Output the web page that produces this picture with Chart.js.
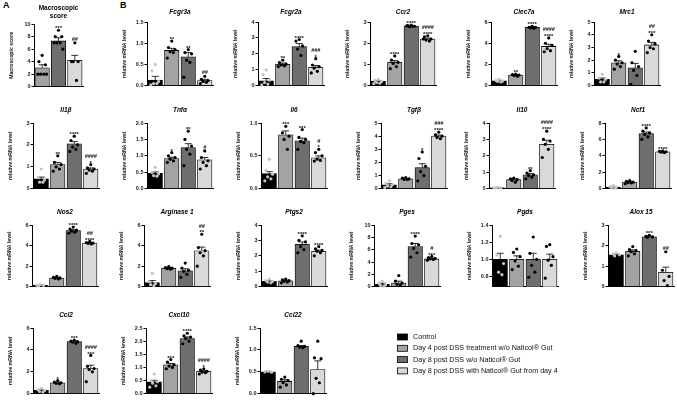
<!DOCTYPE html>
<html>
<head>
<meta charset="utf-8">
<script src="https://cdn.jsdelivr.net/npm/chart.js@4.4.0/dist/chart.umd.min.js"></script>
<style>
  body { margin: 0; background: #fff; }
  #fig { position: relative; width: 677px; height: 400px; overflow: hidden; font-family: "Liberation Sans", Arial, sans-serif; }
  #fig canvas { position: absolute; }
  .letter { position: absolute; font-weight: bold; font-size: 9px; color: #000; }
</style>
</head>
<body>
<div id="fig">
  <div class="letter" style="left:3px;top:0px">A</div>
  <div class="letter" style="left:120px;top:0px">B</div>
  <canvas id="legend" width="200" height="50" style="left:394px;top:331px"></canvas>
</div>
<script>
// groups
const groups = ['Control', 'Day 4 post DSS treatment w/o Naticol® Gut', 'Day 8 post DSS w/o Naticol® Gut', 'Day 8 post DSS with Naticol® Gut from day 4'];
const groupColors = ['#000000', '#a3a3a3', '#6e6e6e', '#d9d9d9'];

// each panel: means, SEM, single animals, significance marks, tick labels
const macro = { mean: [3.0, 7.3, 4.2], sem: [0.5, 0.5, 0.8],
  pts: [[5, 4, 3.5, 2, 2, 2, 2], [9, 8, 8, 7, 7, 7, 6], [7, 4, 4, 4, 1]],
  stars: ['', '***', ''], hash: ['', '', '##'], ticks: ['0', '2', '4', '6', '8', '10'] };
const fcgr3a = { mean: [0.13, 0.83, 0.68, 0.12], sem: [0.09, 0.05, 0.1, 0.03],
  pts: [[0.5, 0.35, 0.1, 0.05, 0.05, 0.02], [1.05, 0.9, 0.85, 0.8, 0.78, 0.65], [0.85, 0.78, 0.75, 0.6, 0.55, 0.2], [0.22, 0.15, 0.12, 0.1, 0.08, 0.05]],
  stars: ['', '**', '**', ''], hash: ['', '', '', '##'], ticks: ['0.0', '0.5', '1.0', '1.5'] };
const fcgr2a = { mean: [0.3, 1.35, 2.45, 1.15], sem: [0.15, 0.07, 0.2, 0.12],
  pts: [[1.0, 0.7, 0.35, 0.2, 0.1, 0.05], [1.6, 1.45, 1.35, 1.3, 1.25, 1.2], [2.9, 2.8, 2.5, 2.3, 1.9], [1.7, 1.3, 1.2, 1.1, 0.9, 0.8]],
  stars: ['', '**', '****', '*'], hash: ['', '', '', '###'], ticks: ['0', '1', '2', '3', '4'] };
const ccr2 = { mean: [0.2, 1.1, 2.8, 2.2], sem: [0.03, 0.08, 0.02, 0.04],
  pts: [[0.3, 0.25, 0.2, 0.15, 0.12, 0.1], [1.4, 1.2, 1.1, 1.05, 0.9, 0.8], [2.85, 2.83, 2.8, 2.78, 2.8, 2.82], [2.35, 2.3, 2.2, 2.15, 2.1, 2.2]],
  stars: ['', '****', '****', '****'], hash: ['', '', '', '####'], ticks: ['0', '1', '2', '3'] };
const clec7a = { mean: [0.45, 1.0, 5.5, 3.7], sem: [0.05, 0.05, 0.05, 0.2],
  pts: [[0.6, 0.5, 0.45, 0.4, 0.35], [1.1, 1.05, 1.0, 0.95, 0.9], [5.6, 5.5, 5.5, 5.45, 5.4], [4.5, 4.0, 3.8, 3.5, 3.3, 3.2]],
  stars: ['', '**', '****', '****'], hash: ['', '', '', '####'], ticks: ['0', '2', '4', '6'] };
const mrc1 = { mean: [0.5, 1.8, 1.4, 3.2], sem: [0.1, 0.15, 0.35, 0.2],
  pts: [[0.9, 0.6, 0.5, 0.3, 0.3], [2.3, 2.0, 1.8, 1.7, 1.5, 1.3], [2.7, 1.8, 1.5, 1.2, 0.8, 0.1], [4.0, 3.5, 3.3, 3.0, 2.9, 2.6]],
  stars: ['', '*', '', '***'], hash: ['', '', '', '##'], ticks: ['0', '1', '2', '3', '4', '5'] };
const il1b = { mean: [0.45, 1.1, 2.05, 0.9], sem: [0.08, 0.1, 0.1, 0.05],
  pts: [[0.9, 0.5, 0.4, 0.3, 0.3], [1.5, 1.2, 1.1, 1.0, 0.9, 0.8], [2.4, 2.2, 2.0, 1.9, 1.8, 1.7], [1.1, 0.95, 0.9, 0.85, 0.8, 0.7]],
  stars: ['', '**', '****', '*'], hash: ['', '', '', '####'], ticks: ['0', '1', '2', '3'] };
const tnfa = { mean: [0.47, 0.92, 1.25, 0.88], sem: [0.04, 0.04, 0.12, 0.07],
  pts: [[0.65, 0.5, 0.45, 0.4, 0.38], [1.1, 1.0, 0.95, 0.9, 0.85, 0.8], [1.75, 1.5, 1.3, 1.2, 1.05, 0.7], [1.15, 0.95, 0.85, 0.8, 0.7, 0.6]],
  stars: ['', '*', '**', ''], hash: ['', '', '', '#'], ticks: ['0.0', '0.5', '1.0', '1.5', '2.0'] };
const il6 = { mean: [0.23, 0.82, 0.73, 0.47], sem: [0.03, 0.06, 0.04, 0.03],
  pts: [[0.45, 0.28, 0.22, 0.18, 0.15, 0.12], [0.95, 0.85, 0.8, 0.75, 0.6], [0.9, 0.78, 0.75, 0.72, 0.7, 0.6], [0.6, 0.55, 0.5, 0.45, 0.43, 0.42]],
  stars: ['', '***', '***', '*'], hash: ['', '', '', '#'], ticks: ['0.0', '0.5', '1.0'] };
const tgfb = { mean: [0.3, 0.75, 1.6, 4.0], sem: [0.08, 0.03, 0.3, 0.08],
  pts: [[0.6, 0.4, 0.3, 0.2, 0.15, 0.1], [0.85, 0.8, 0.75, 0.7, 0.7], [2.8, 2.3, 1.7, 1.3, 1.0, 0.6], [4.3, 4.1, 4.0, 3.9, 3.8]],
  stars: ['', '', '*', '****'], hash: ['', '', '', '###'], ticks: ['0', '1', '2', '3', '4', '5'] };
const il10 = { mean: [0.05, 0.55, 0.85, 2.7], sem: [0.01, 0.05, 0.07, 0.25],
  pts: [[0.08, 0.05, 0.05, 0.03], [0.65, 0.6, 0.55, 0.5, 0.4], [1.1, 0.95, 0.85, 0.8, 0.7, 0.6], [3.5, 3.0, 2.9, 2.7, 2.4, 1.9]],
  stars: ['', '', '**', '****'], hash: ['', '', '', '####'], ticks: ['0', '1', '2', '3', '4'] };
const ncf1 = { mean: [0.2, 0.8, 6.7, 4.5], sem: [0.03, 0.05, 0.2, 0.05],
  pts: [[0.4, 0.25, 0.2, 0.15, 0.1], [1.0, 0.9, 0.8, 0.75, 0.7, 0.6], [7.4, 7.0, 6.8, 6.6, 6.3, 6.0], [4.6, 4.55, 4.5, 4.45, 4.4]],
  stars: ['', '', '****', '****'], hash: ['', '', '', ''], ticks: ['0', '2', '4', '6', '8'] };
const nos2 = { mean: [0.15, 0.85, 5.45, 4.25], sem: [0.02, 0.05, 0.1, 0.05],
  pts: [[0.2, 0.15, 0.12, 0.1], [1.0, 0.9, 0.85, 0.8, 0.75], [5.8, 5.6, 5.5, 5.4, 5.3, 5.2], [4.4, 4.3, 4.25, 4.2, 4.15]],
  stars: ['', '', '****', '****'], hash: ['', '', '', '##'], ticks: ['0', '2', '4', '6'] };
const arg1 = { mean: [0.4, 1.8, 1.55, 3.5], sem: [0.2, 0.05, 0.2, 0.35],
  pts: [[1.3, 0.5, 0.3, 0.2, 0.1], [1.95, 1.85, 1.8, 1.75, 1.7], [2.3, 1.8, 1.6, 1.5, 1.2, 0.9], [5.1, 3.8, 3.5, 3.3, 3.0, 2.0]],
  stars: ['', '', '', '**'], hash: ['', '', '', '##'], ticks: ['0', '2', '4', '6'] };
const ptgs2 = { mean: [0.35, 0.38, 2.75, 2.3], sem: [0.03, 0.04, 0.15, 0.07],
  pts: [[0.5, 0.4, 0.35, 0.3, 0.25], [0.5, 0.45, 0.4, 0.35, 0.3, 0.25], [3.3, 3.0, 2.9, 2.6, 2.4, 2.2], [2.6, 2.45, 2.35, 2.3, 2.2, 2.0]],
  stars: ['', '', '****', '****'], hash: ['', '', '', ''], ticks: ['0', '1', '2', '3', '4'] };
const pges = { mean: [0.4, 0.6, 6.5, 4.5], sem: [0.15, 0.3, 0.5, 0.1],
  pts: [[0.9, 0.5, 0.3, 0.2, 0.1], [1.8, 0.9, 0.6, 0.4, 0.2], [8.2, 7.0, 6.8, 6.2, 5.5, 4.8], [4.9, 4.7, 4.6, 4.5, 4.4, 4.3]],
  stars: ['', '', '****', '***'], hash: ['', '', '', '#'], ticks: ['0', '2', '4', '6', '8', '10'] };
const pgds = { mean: [1.0, 1.0, 1.0, 1.0], sem: [0.07, 0.04, 0.07, 0.06],
  pts: [[1.27, 1.05, 0.95, 0.85, 0.82], [1.12, 1.08, 1.03, 0.98, 0.92, 0.88], [1.26, 1.07, 1.0, 0.93, 0.85, 0.79], [1.17, 1.15, 1.03, 0.99, 0.93, 0.78]],
  stars: ['', '', '', ''], hash: ['', '', '', ''], ticks: ['0.8', '1.0', '1.2', '1.4'], min: 0.68 };
const alox15 = { mean: [1.55, 1.72, 2.43, 0.7], sem: [0.03, 0.07, 0.03, 0.25],
  pts: [[1.65, 1.6, 1.55, 1.5], [1.95, 1.8, 1.75, 1.7, 1.6, 1.5], [2.5, 2.45, 2.42, 2.4], [1.7, 0.8, 0.5, 0.3, 0.05]],
  stars: ['', '', '***', ''], hash: ['', '', '', '##'], ticks: ['0', '1', '2', '3'] };
const ccl2 = { mean: [0.3, 1.0, 4.75, 2.3], sem: [0.05, 0.05, 0.07, 0.3],
  pts: [[0.5, 0.35, 0.3, 0.2, 0.15], [1.2, 1.05, 1.0, 0.95, 0.9], [4.9, 4.8, 4.75, 4.7, 4.6], [3.5, 2.5, 2.3, 2.2, 2.0, 1.1]],
  stars: ['', '*', '***', '***'], hash: ['', '', '', '####'], ticks: ['0', '2', '4', '6'] };
const cxcl10 = { mean: [0.45, 1.1, 2.1, 0.85], sem: [0.06, 0.05, 0.06, 0.03],
  pts: [[0.75, 0.5, 0.45, 0.4, 0.3, 0.25], [1.3, 1.2, 1.1, 1.05, 1.0, 0.95], [2.3, 2.2, 2.15, 2.1, 2.0, 1.9], [0.95, 0.9, 0.85, 0.82, 0.8, 0.75]],
  stars: ['', '***', '****', '*'], hash: ['', '', '', '####'], ticks: ['0.0', '0.5', '1.0', '1.5', '2.0', '2.5'] };
const ccl22 = { mean: [0.5, 0.28, 1.08, 0.55], sem: [0.01, 0.04, 0.02, 0.2],
  pts: [[0.51, 0.5, 0.49], [0.38, 0.33, 0.3, 0.25, 0.2, 0.15], [1.2, 1.1, 1.08, 1.06, 1.05], [1.2, 0.82, 0.8, 0.35, 0.25, 0.0]],
  stars: ['', '', '', ''], hash: ['', '', '', ''], ticks: ['0.0', '0.5', '1.0', '1.5'] };

// horizontal spread of the dots inside a bar, in category units
const jitter = [0, -0.2, 0.2, -0.1, 0.1, -0.27, 0.27];

// where each small chart goes: title, data, y-axis x, plot top/bottom
const panels = [
  ['Macroscopic\nscore', macro, 34, 24, 89, 'Macroscopic score'],
  ['Fcgr3a', fcgr3a, 147, 22, 88], ['Fcgr2a', fcgr2a, 258, 22, 88], ['Ccr2', ccr2, 370, 22, 88],
  ['Clec7a', clec7a, 491, 22, 88], ['Mrc1', mrc1, 594, 22, 88],
  ['Il1β', il1b, 33, 123, 191], ['Tnfα', tnfa, 147, 123, 191], ['Il6', il6, 261, 123, 191],
  ['Tgfβ', tgfb, 381, 123, 191], ['Il10', il10, 489, 123, 191], ['Ncf1', ncf1, 605, 123, 191],
  ['Nos2', nos2, 32, 225, 289], ['Arginase 1', arg1, 144, 225, 289], ['Ptgs2', ptgs2, 261, 225, 289],
  ['Pges', pges, 374, 225, 289], ['Pgds', pgds, 492, 225, 289], ['Alox 15', alox15, 608, 225, 289],
  ['Ccl2', ccl2, 33, 328, 396], ['Cxcl10', cxcl10, 146, 328, 396], ['Ccl22', ccl22, 260, 328, 396]
];

const FONT = '"Liberation Sans", Arial, sans-serif';

const marks = {
  id: 'marks',
  afterDatasetDraw(chart, args, opts) {
    if (args.index !== 0) return;
    const { ctx, scales: { x, y } } = chart;
    const d = opts.d;
    ctx.save();
    ctx.strokeStyle = '#000';
    ctx.lineWidth = 0.8;
    d.mean.forEach((m, i) => {
      const px = x.getPixelForValue(i);
      const yt = y.getPixelForValue(m + d.sem[i]);
      ctx.beginPath();
      ctx.moveTo(px, y.getPixelForValue(m));
      ctx.lineTo(px, yt);
      ctx.moveTo(px - 3.5, yt);
      ctx.lineTo(px + 3.5, yt);
      ctx.stroke();
    });
    ctx.restore();
  },
  afterDraw(chart, args, opts) {
    const { ctx, chartArea, scales: { x, y } } = chart;
    const d = opts.d;
    ctx.save();
    ctx.fillStyle = '#111';
    ctx.textAlign = 'center';
    ctx.textBaseline = 'bottom';
    d.mean.forEach((m, i) => {
      const top = Math.max(m + d.sem[i], ...d.pts[i]);
      const px = x.getPixelForValue(i);
      let py = y.getPixelForValue(top) - 1;
      ctx.font = 'bold 6px ' + FONT;
      if (d.stars[i]) { ctx.fillText(d.stars[i], px, py + 2.5); py -= 4.5; }
      ctx.font = 'italic bold 5.5px ' + FONT;
      if (d.hash[i]) ctx.fillText(d.hash[i], px, py);
    });
    // chart title
    const cx = (chartArea.left + chartArea.right) / 2;
    ctx.textBaseline = 'middle';
    ctx.fillStyle = '#000';
    if (opts.title.includes('\n')) {
      ctx.font = 'bold 6.5px ' + FONT;
      opts.title.split('\n').forEach((t, k) => ctx.fillText(t, cx, chartArea.top - 16 + k * 8));
    } else {
      ctx.font = 'italic bold 6.5px ' + FONT;
      ctx.fillText(opts.title, cx, chartArea.top - opts.off);
    }
    ctx.restore();
  }
};

const fig = document.getElementById('fig');

panels.forEach(([title, d, axisX, top, bottom, yTitle]) => {
  const n = d.mean.length;
  const catW = 17;
  const chartW = catW * n;
  const yw = 26, padTop = 20, padBot = 2, padR = 2;
  const cv = document.createElement('canvas');
  cv.width = yw + chartW + padR;
  cv.height = (bottom - top) + padTop + padBot;
  cv.style.left = (axisX - yw) + 'px';
  cv.style.top = (top - padTop) + 'px';
  fig.appendChild(cv);

  const tickVals = d.ticks.map(Number);
  const dots = [];
  d.pts.forEach((arr, g) => arr.forEach((v, k) => dots.push({ x: g + jitter[k % jitter.length], y: v, g })));

  new Chart(cv, {
    type: 'bar',
    data: {
      datasets: [{
        data: d.mean.map((m, i) => ({ x: i, y: m })),
        backgroundColor: n === 3 ? groupColors.slice(1) : groupColors,
        borderColor: '#000',
        borderWidth: 0.8,
        barThickness: catW - 2.5,
        order: 2
      }, {
        type: 'scatter',
        data: dots,
        pointRadius: 1.6,
        pointBorderWidth: 0,
        pointBackgroundColor: c => (n === 4 && c.raw && c.raw.g === 0) ? '#c4c4c4' : '#000',
        clip: false,
        order: 1
      }]
    },
    options: {
      responsive: false,
      animation: false,
      layout: { padding: { top: padTop, bottom: padBot, right: padR, left: 0 } },
      plugins: {
        legend: { display: false },
        tooltip: { enabled: false },
        marks: { d, title, off: top < 30 ? 10 : 13 }
      },
      scales: {
        x: {
          type: 'linear', min: -0.5, max: n - 0.5, offset: false,
          grid: { display: false },
          ticks: { display: false },
          border: { display: true, color: '#000', width: 1 },
          afterFit: s => { s.height = 0; }
        },
        y: {
          min: d.min !== undefined ? d.min : tickVals[0],
          max: tickVals[tickVals.length - 1],
          afterBuildTicks: s => { s.ticks = tickVals.map(v => ({ value: v })); },
          ticks: {
            font: { size: 5.5, family: FONT, weight: 'bold' }, color: '#222', padding: 1,
            callback: (v) => d.ticks[tickVals.indexOf(v)]
          },
          grid: { display: true, drawOnChartArea: false, drawTicks: true, tickLength: 2.5, color: '#000' },
          border: { display: true, color: '#000', width: 1 },
          title: { display: true, text: yTitle || 'relative mRNA level', font: { size: 5.2, family: FONT, weight: 'bold' }, color: '#111', padding: 0 },
          afterFit: s => { s.width = yw; }
        }
      }
    },
    plugins: [marks]
  });
});

// legend, drawn as canvas text so it keeps plain grey anti-aliasing
const lg = document.getElementById('legend').getContext('2d');
lg.font = '7.2px ' + FONT;
lg.textBaseline = 'middle';
groups.forEach((g, i) => {
  const cy = 6 + i * 11.3;
  lg.fillStyle = groupColors[i];
  lg.fillRect(3.5, cy - 3, 10, 6);
  lg.strokeStyle = '#000';
  lg.lineWidth = 0.8;
  lg.strokeRect(3.5, cy - 3, 10, 6);
  lg.fillStyle = '#111';
  lg.fillText(g, 19, cy);
});
</script>
</body>
</html>
